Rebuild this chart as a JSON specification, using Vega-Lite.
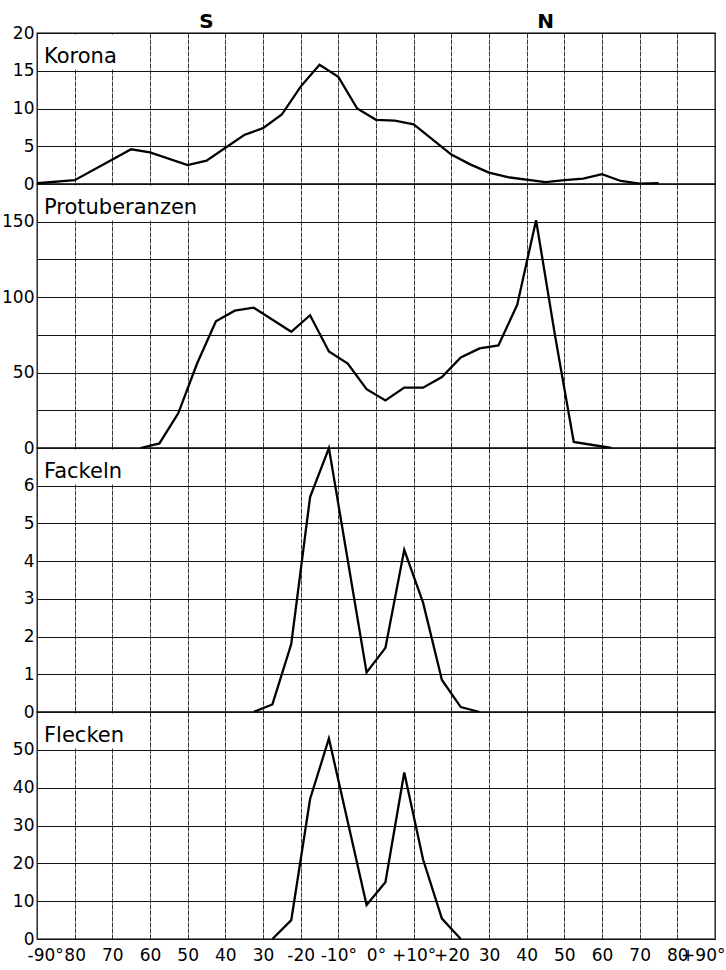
{
  "$schema": "https://vega.github.io/schema/vega-lite/v6.json",
  "padding": {"left": 0, "top": 11, "right": 0, "bottom": 2},
  "spacing": 0,
  "bounds": "flush",
  "background": "white",
  "config": {
    "font": "DejaVu Sans",
    "concat": {"spacing": 0},
    "view": {"stroke": "#000", "strokeWidth": 1.3},
    "axis": {"labelFont": "DejaVu Sans", "labelFontSize": 17, "labelColor": "#000", "ticks": false, "domain": false, "gridColor": "#111", "gridWidth": 1, "gridOpacity": 1, "labelOverlap": false, "labelPadding": 3},
    "axisX": {"gridDash": [5, 1], "gridColor": "#333", "labelPadding": 8, "labelFlush": true, "labelFlushOffset": 10},
    "line": {"color": "#000", "strokeWidth": 2.3},
    "text": {"font": "DejaVu Sans", "color": "#000"}
  },
  "datasets": {
    "obs": [
      {"panel": "Korona", "lat": -90, "val": 0.1},
      {"panel": "Korona", "lat": -80, "val": 0.5},
      {"panel": "Korona", "lat": -65, "val": 4.6},
      {"panel": "Korona", "lat": -60, "val": 4.2},
      {"panel": "Korona", "lat": -50, "val": 2.5},
      {"panel": "Korona", "lat": -45, "val": 3.1},
      {"panel": "Korona", "lat": -35, "val": 6.5},
      {"panel": "Korona", "lat": -30, "val": 7.4},
      {"panel": "Korona", "lat": -25, "val": 9.2},
      {"panel": "Korona", "lat": -20, "val": 12.9},
      {"panel": "Korona", "lat": -15, "val": 15.8},
      {"panel": "Korona", "lat": -10, "val": 14.2},
      {"panel": "Korona", "lat": -5, "val": 10.0},
      {"panel": "Korona", "lat": 0, "val": 8.5},
      {"panel": "Korona", "lat": 5, "val": 8.4},
      {"panel": "Korona", "lat": 10, "val": 7.9},
      {"panel": "Korona", "lat": 20, "val": 3.9},
      {"panel": "Korona", "lat": 25, "val": 2.6},
      {"panel": "Korona", "lat": 30, "val": 1.5},
      {"panel": "Korona", "lat": 35, "val": 0.9},
      {"panel": "Korona", "lat": 45, "val": 0.25},
      {"panel": "Korona", "lat": 50, "val": 0.5},
      {"panel": "Korona", "lat": 55, "val": 0.7},
      {"panel": "Korona", "lat": 60, "val": 1.3},
      {"panel": "Korona", "lat": 65, "val": 0.4},
      {"panel": "Korona", "lat": 70, "val": 0.05},
      {"panel": "Korona", "lat": 75, "val": 0.1},
      {"panel": "Protuberanzen", "lat": -62.5, "val": 0},
      {"panel": "Protuberanzen", "lat": -57.5, "val": 3},
      {"panel": "Protuberanzen", "lat": -52.5, "val": 23},
      {"panel": "Protuberanzen", "lat": -47.5, "val": 56},
      {"panel": "Protuberanzen", "lat": -42.5, "val": 84},
      {"panel": "Protuberanzen", "lat": -37.5, "val": 91},
      {"panel": "Protuberanzen", "lat": -32.5, "val": 93},
      {"panel": "Protuberanzen", "lat": -22.5, "val": 77},
      {"panel": "Protuberanzen", "lat": -17.5, "val": 88},
      {"panel": "Protuberanzen", "lat": -12.5, "val": 64},
      {"panel": "Protuberanzen", "lat": -7.5, "val": 56},
      {"panel": "Protuberanzen", "lat": -2.5, "val": 39},
      {"panel": "Protuberanzen", "lat": 2.5, "val": 31.5},
      {"panel": "Protuberanzen", "lat": 7.5, "val": 40},
      {"panel": "Protuberanzen", "lat": 12.5, "val": 40},
      {"panel": "Protuberanzen", "lat": 17.5, "val": 47},
      {"panel": "Protuberanzen", "lat": 22.5, "val": 60},
      {"panel": "Protuberanzen", "lat": 27.5, "val": 66},
      {"panel": "Protuberanzen", "lat": 32.5, "val": 68},
      {"panel": "Protuberanzen", "lat": 37.5, "val": 95},
      {"panel": "Protuberanzen", "lat": 42.5, "val": 151},
      {"panel": "Protuberanzen", "lat": 47.5, "val": 75},
      {"panel": "Protuberanzen", "lat": 52.5, "val": 4},
      {"panel": "Protuberanzen", "lat": 62.5, "val": 0},
      {"panel": "Fackeln", "lat": -32.5, "val": 0},
      {"panel": "Fackeln", "lat": -27.5, "val": 0.2},
      {"panel": "Fackeln", "lat": -22.5, "val": 1.8},
      {"panel": "Fackeln", "lat": -17.5, "val": 5.7},
      {"panel": "Fackeln", "lat": -12.5, "val": 7.0},
      {"panel": "Fackeln", "lat": -2.5, "val": 1.05},
      {"panel": "Fackeln", "lat": 2.5, "val": 1.7},
      {"panel": "Fackeln", "lat": 7.5, "val": 4.3},
      {"panel": "Fackeln", "lat": 12.5, "val": 2.9},
      {"panel": "Fackeln", "lat": 17.5, "val": 0.85},
      {"panel": "Fackeln", "lat": 22.5, "val": 0.13},
      {"panel": "Fackeln", "lat": 27.5, "val": 0},
      {"panel": "Flecken", "lat": -27.5, "val": 0},
      {"panel": "Flecken", "lat": -22.5, "val": 5},
      {"panel": "Flecken", "lat": -17.5, "val": 37},
      {"panel": "Flecken", "lat": -12.5, "val": 53},
      {"panel": "Flecken", "lat": -2.5, "val": 9},
      {"panel": "Flecken", "lat": 2.5, "val": 15},
      {"panel": "Flecken", "lat": 7.5, "val": 44},
      {"panel": "Flecken", "lat": 12.5, "val": 21},
      {"panel": "Flecken", "lat": 17.5, "val": 5.4},
      {"panel": "Flecken", "lat": 22.5, "val": 0}
    ],
    "labels": [
      {"panel": "Korona", "label": "Korona"},
      {"panel": "Protuberanzen", "label": "Protuberanzen"},
      {"panel": "Fackeln", "label": "Fackeln"},
      {"panel": "Flecken", "label": "Flecken"}
    ]
  },
  "vconcat": [
    {
      "width": 678, "height": 151,
      "layer": [
        {
          "data": {"name": "labels"},
          "transform": [{"filter": "datum.panel == 'Korona'"}],
          "mark": {"type": "rect", "fill": "white", "xOffset": 1.5, "x2Offset": -1.5, "yOffset": -1.5, "y2Offset": 1.5},
          "encoding": {
            "x": {"datum": -90, "type": "quantitative", "scale": {"domain": [-90, 90], "nice": false, "zero": false},
                  "axis": {"title": null, "values": [-90,-80,-70,-60,-50,-40,-30,-20,-10,0,10,20,30,40,50,60,70,80,90], "labels": false, "grid": true, "labelPadding": 0, "minExtent": 0, "maxExtent": 0}},
            "x2": {"datum": -60},
            "y": {"datum": 15, "type": "quantitative", "scale": {"domain": [0, 20], "nice": false},
                  "axis": {"title": null, "values": [0,5,10,15,20], "grid": true}},
            "y2": {"datum": 20}
          }
        },
        {
          "data": {"name": "obs"},
          "transform": [{"filter": "datum.panel == 'Korona'"}],
          "mark": {"type": "line"},
          "encoding": {
            "x": {"field": "lat", "type": "quantitative", "scale": {"domain": [-90, 90], "nice": false, "zero": false},
                  "axis": {"title": null, "values": [-90,-80,-70,-60,-50,-40,-30,-20,-10,0,10,20,30,40,50,60,70,80,90], "labels": false, "grid": true, "labelPadding": 0, "minExtent": 0, "maxExtent": 0}},
            "y": {"field": "val", "type": "quantitative", "scale": {"domain": [0, 20], "nice": false},
                  "axis": {"title": null, "values": [0,5,10,15,20], "grid": true}}
          }
        },
        {
          "data": {"name": "labels"},
          "transform": [{"filter": "datum.panel == 'Korona'"}],
          "mark": {"type": "text", "align": "left", "baseline": "alphabetic", "dx": 7, "dy": 30, "fontSize": 21},
          "encoding": {
            "x": {"datum": -90, "type": "quantitative", "scale": {"domain": [-90, 90], "nice": false, "zero": false},
                  "axis": {"title": null, "values": [-90,-80,-70,-60,-50,-40,-30,-20,-10,0,10,20,30,40,50,60,70,80,90], "labels": false, "grid": true, "labelPadding": 0, "minExtent": 0, "maxExtent": 0}},
            "y": {"datum": 20, "type": "quantitative", "scale": {"domain": [0, 20], "nice": false},
                  "axis": {"title": null, "values": [0,5,10,15,20], "grid": true}},
            "text": {"field": "label"}
          }
        },
        {
          "data": {"values": [{"hemisphere": "S", "lat": -45}, {"hemisphere": "N", "lat": 45}]},
          "mark": {"type": "text", "align": "center", "baseline": "alphabetic", "dy": -5, "fontSize": 20, "fontWeight": "bold"},
          "encoding": {
            "x": {"field": "lat", "type": "quantitative", "scale": {"domain": [-90, 90], "nice": false, "zero": false},
                  "axis": {"title": null, "values": [-90,-80,-70,-60,-50,-40,-30,-20,-10,0,10,20,30,40,50,60,70,80,90], "labels": false, "grid": true, "labelPadding": 0, "minExtent": 0, "maxExtent": 0}},
            "y": {"datum": 20, "type": "quantitative", "scale": {"domain": [0, 20], "nice": false},
                  "axis": {"title": null, "values": [0,5,10,15,20], "grid": true}},
            "text": {"field": "hemisphere"}
          }
        }
      ]
    },
    {
      "width": 678, "height": 264,
      "layer": [
        {
          "data": {"name": "labels"},
          "transform": [{"filter": "datum.panel == 'Protuberanzen'"}],
          "mark": {"type": "rect", "fill": "white", "xOffset": 1.5, "x2Offset": -1.5, "yOffset": -1.5, "y2Offset": 1.5},
          "encoding": {
            "x": {"datum": -90, "type": "quantitative", "scale": {"domain": [-90, 90], "nice": false, "zero": false},
                  "axis": {"title": null, "values": [-90,-80,-70,-60,-50,-40,-30,-20,-10,0,10,20,30,40,50,60,70,80,90], "labels": false, "grid": true, "labelPadding": 0, "minExtent": 0, "maxExtent": 0}},
            "x2": {"datum": -40},
            "y": {"datum": 150, "type": "quantitative", "scale": {"domain": [0, 175], "nice": false},
                  "axis": {"title": null, "values": [0,25,50,75,100,125,150,175], "grid": true, "labelExpr": "datum.value % 50 == 0 && datum.value <= 150 ? datum.label : ''"}},
            "y2": {"datum": 175}
          }
        },
        {
          "data": {"name": "obs"},
          "transform": [{"filter": "datum.panel == 'Protuberanzen'"}],
          "mark": {"type": "line"},
          "encoding": {
            "x": {"field": "lat", "type": "quantitative", "scale": {"domain": [-90, 90], "nice": false, "zero": false},
                  "axis": {"title": null, "values": [-90,-80,-70,-60,-50,-40,-30,-20,-10,0,10,20,30,40,50,60,70,80,90], "labels": false, "grid": true, "labelPadding": 0, "minExtent": 0, "maxExtent": 0}},
            "y": {"field": "val", "type": "quantitative", "scale": {"domain": [0, 175], "nice": false},
                  "axis": {"title": null, "values": [0,25,50,75,100,125,150,175], "grid": true, "labelExpr": "datum.value % 50 == 0 && datum.value <= 150 ? datum.label : ''"}}
          }
        },
        {
          "data": {"name": "labels"},
          "transform": [{"filter": "datum.panel == 'Protuberanzen'"}],
          "mark": {"type": "text", "align": "left", "baseline": "alphabetic", "dx": 7, "dy": 30, "fontSize": 21},
          "encoding": {
            "x": {"datum": -90, "type": "quantitative", "scale": {"domain": [-90, 90], "nice": false, "zero": false},
                  "axis": {"title": null, "values": [-90,-80,-70,-60,-50,-40,-30,-20,-10,0,10,20,30,40,50,60,70,80,90], "labels": false, "grid": true, "labelPadding": 0, "minExtent": 0, "maxExtent": 0}},
            "y": {"datum": 175, "type": "quantitative", "scale": {"domain": [0, 175], "nice": false},
                  "axis": {"title": null, "values": [0,25,50,75,100,125,150,175], "grid": true, "labelExpr": "datum.value % 50 == 0 && datum.value <= 150 ? datum.label : ''"}},
            "text": {"field": "label"}
          }
        }
      ]
    },
    {
      "width": 678, "height": 264,
      "layer": [
        {
          "data": {"name": "labels"},
          "transform": [{"filter": "datum.panel == 'Fackeln'"}],
          "mark": {"type": "rect", "fill": "white", "xOffset": 1.5, "x2Offset": -1.5, "yOffset": -1.5, "y2Offset": 1.5},
          "encoding": {
            "x": {"datum": -90, "type": "quantitative", "scale": {"domain": [-90, 90], "nice": false, "zero": false},
                  "axis": {"title": null, "values": [-90,-80,-70,-60,-50,-40,-30,-20,-10,0,10,20,30,40,50,60,70,80,90], "labels": false, "grid": true, "labelPadding": 0, "minExtent": 0, "maxExtent": 0}},
            "x2": {"datum": -60},
            "y": {"datum": 6, "type": "quantitative", "scale": {"domain": [0, 7], "nice": false},
                  "axis": {"title": null, "values": [0,1,2,3,4,5,6,7], "grid": true, "labelExpr": "datum.value < 7 ? datum.label : ''"}},
            "y2": {"datum": 7}
          }
        },
        {
          "data": {"name": "obs"},
          "transform": [{"filter": "datum.panel == 'Fackeln'"}],
          "mark": {"type": "line"},
          "encoding": {
            "x": {"field": "lat", "type": "quantitative", "scale": {"domain": [-90, 90], "nice": false, "zero": false},
                  "axis": {"title": null, "values": [-90,-80,-70,-60,-50,-40,-30,-20,-10,0,10,20,30,40,50,60,70,80,90], "labels": false, "grid": true, "labelPadding": 0, "minExtent": 0, "maxExtent": 0}},
            "y": {"field": "val", "type": "quantitative", "scale": {"domain": [0, 7], "nice": false},
                  "axis": {"title": null, "values": [0,1,2,3,4,5,6,7], "grid": true, "labelExpr": "datum.value < 7 ? datum.label : ''"}}
          }
        },
        {
          "data": {"name": "labels"},
          "transform": [{"filter": "datum.panel == 'Fackeln'"}],
          "mark": {"type": "text", "align": "left", "baseline": "alphabetic", "dx": 7, "dy": 30, "fontSize": 21},
          "encoding": {
            "x": {"datum": -90, "type": "quantitative", "scale": {"domain": [-90, 90], "nice": false, "zero": false},
                  "axis": {"title": null, "values": [-90,-80,-70,-60,-50,-40,-30,-20,-10,0,10,20,30,40,50,60,70,80,90], "labels": false, "grid": true, "labelPadding": 0, "minExtent": 0, "maxExtent": 0}},
            "y": {"datum": 7, "type": "quantitative", "scale": {"domain": [0, 7], "nice": false},
                  "axis": {"title": null, "values": [0,1,2,3,4,5,6,7], "grid": true, "labelExpr": "datum.value < 7 ? datum.label : ''"}},
            "text": {"field": "label"}
          }
        }
      ]
    },
    {
      "width": 678, "height": 227,
      "layer": [
        {
          "data": {"name": "labels"},
          "transform": [{"filter": "datum.panel == 'Flecken'"}],
          "mark": {"type": "rect", "fill": "white", "xOffset": 1.5, "x2Offset": -1.5, "yOffset": -1.5, "y2Offset": 1.5},
          "encoding": {
            "x": {"datum": -90, "type": "quantitative", "scale": {"domain": [-90, 90], "nice": false, "zero": false},
                  "axis": {"title": null, "values": [-90,-80,-70,-60,-50,-40,-30,-20,-10,0,10,20,30,40,50,60,70,80,90], "grid": true,
                           "labelExpr": "datum.value == -90 ? '-90°' : datum.value == -20 ? '-20' : datum.value == -10 ? '-10°' : datum.value == 0 ? '0°' : datum.value == 10 ? '+10°' : datum.value == 20 ? '+20' : datum.value == 90 ? '+90°' : '' + abs(datum.value)"}},
            "x2": {"datum": -60},
            "y": {"datum": 50, "type": "quantitative", "scale": {"domain": [0, 60], "nice": false},
                  "axis": {"title": null, "values": [0,10,20,30,40,50,60], "grid": true, "labelExpr": "datum.value < 60 ? datum.label : ''"}},
            "y2": {"datum": 60}
          }
        },
        {
          "data": {"name": "obs"},
          "transform": [{"filter": "datum.panel == 'Flecken'"}],
          "mark": {"type": "line"},
          "encoding": {
            "x": {"field": "lat", "type": "quantitative", "scale": {"domain": [-90, 90], "nice": false, "zero": false},
                  "axis": {"title": null, "values": [-90,-80,-70,-60,-50,-40,-30,-20,-10,0,10,20,30,40,50,60,70,80,90], "grid": true,
                           "labelExpr": "datum.value == -90 ? '-90°' : datum.value == -20 ? '-20' : datum.value == -10 ? '-10°' : datum.value == 0 ? '0°' : datum.value == 10 ? '+10°' : datum.value == 20 ? '+20' : datum.value == 90 ? '+90°' : '' + abs(datum.value)"}},
            "y": {"field": "val", "type": "quantitative", "scale": {"domain": [0, 60], "nice": false},
                  "axis": {"title": null, "values": [0,10,20,30,40,50,60], "grid": true, "labelExpr": "datum.value < 60 ? datum.label : ''"}}
          }
        },
        {
          "data": {"name": "labels"},
          "transform": [{"filter": "datum.panel == 'Flecken'"}],
          "mark": {"type": "text", "align": "left", "baseline": "alphabetic", "dx": 7, "dy": 30, "fontSize": 21},
          "encoding": {
            "x": {"datum": -90, "type": "quantitative", "scale": {"domain": [-90, 90], "nice": false, "zero": false},
                  "axis": {"title": null, "values": [-90,-80,-70,-60,-50,-40,-30,-20,-10,0,10,20,30,40,50,60,70,80,90], "grid": true,
                           "labelExpr": "datum.value == -90 ? '-90°' : datum.value == -20 ? '-20' : datum.value == -10 ? '-10°' : datum.value == 0 ? '0°' : datum.value == 10 ? '+10°' : datum.value == 20 ? '+20' : datum.value == 90 ? '+90°' : '' + abs(datum.value)"}},
            "y": {"datum": 60, "type": "quantitative", "scale": {"domain": [0, 60], "nice": false},
                  "axis": {"title": null, "values": [0,10,20,30,40,50,60], "grid": true, "labelExpr": "datum.value < 60 ? datum.label : ''"}},
            "text": {"field": "label"}
          }
        }
      ]
    }
  ]
}
